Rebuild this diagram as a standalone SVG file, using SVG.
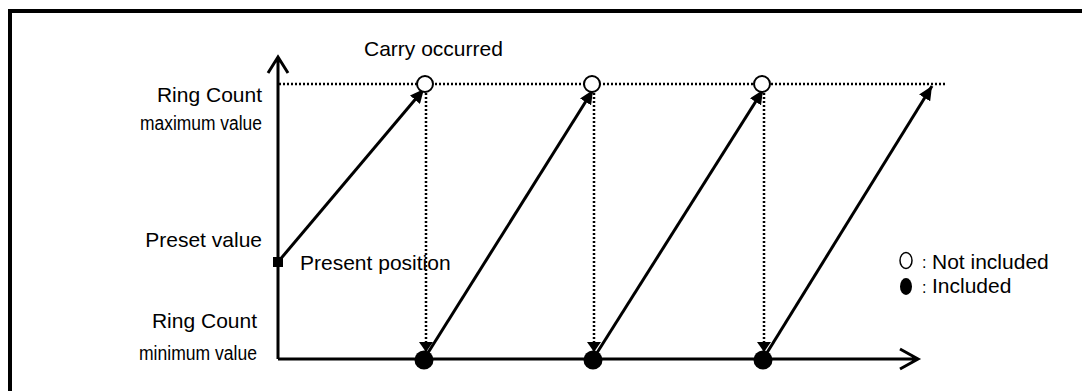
<svg xmlns="http://www.w3.org/2000/svg" width="1082" height="391" viewBox="0 0 1082 391">
<style>
text{font-family:"Liberation Sans",Arial,sans-serif;font-size:21px;fill:#000}
.r{text-anchor:end}
.nar{font-size:20px}
.ax{fill:none;stroke:#000;stroke-width:3}
.sol{fill:none;stroke:#000;stroke-width:3}
.dot{fill:none;stroke:#000;stroke-width:2.5;stroke-dasharray:2 2}
.open{fill:#fff;stroke:#000;stroke-width:2}
.fill{fill:#000}
</style>
<defs>
<marker id="ah" markerUnits="userSpaceOnUse" markerWidth="15" markerHeight="13" refX="14" refY="6.5" orient="auto" viewBox="0 0 15 13">
<path d="M0,0 L14,6.5 L0,13 z" fill="#000"/>
</marker>
<marker id="dh" markerUnits="userSpaceOnUse" markerWidth="12" markerHeight="14" refX="10" refY="7" orient="auto" viewBox="0 0 12 14">
<path d="M0,0 L10,7 L0,14 z" fill="#000"/>
</marker>
</defs>
<rect width="1082" height="391" fill="#fff"/>
<path d="M10,391 V11 H1082" fill="none" stroke="#000" stroke-width="4"/>
<g id="axes">
<path class="ax" d="M278,359 V58 M268,73 L278,57 L288,73"/>
<path class="ax" d="M278,359 H917 M900,349 L918,359 L900,369"/>
</g>
<g id="connectors">
<path class="dot" d="M279,84 H946"/>
<path class="dot" d="M426,93 V352" marker-end="url(#dh)"/>
<path class="dot" d="M594,93 V352" marker-end="url(#dh)"/>
<path class="dot" d="M764,93 V352" marker-end="url(#dh)"/>
<path class="sol" d="M278,262 L424,89" marker-end="url(#ah)"/>
<path class="sol" d="M426,356 L593,90" marker-end="url(#ah)"/>
<path class="sol" d="M595,356 L763,90" marker-end="url(#ah)"/>
<path class="sol" d="M765,356 L932,86" marker-end="url(#ah)"/>
</g>
<g id="carry-points">
<circle class="open" cx="425" cy="84" r="8"/>
<circle class="open" cx="592" cy="84" r="8"/>
<circle class="open" cx="762" cy="84" r="8"/>
</g>
<g id="included-points">
<circle class="fill" cx="424" cy="360" r="9.5"/>
<circle class="fill" cx="593" cy="360" r="9.5"/>
<circle class="fill" cx="763" cy="360" r="9.5"/>
</g>
<g id="preset-point">
<rect x="273" y="257" width="10" height="10" fill="#000"/>
</g>
<g id="labels">
<text x="364" y="56">Carry occurred</text>
<text class="r" x="262" y="102">Ring Count</text>
<text class="r nar" x="262" y="130" textLength="122" lengthAdjust="spacingAndGlyphs">maximum value</text>
<text class="r" x="262" y="247">Preset value</text>
<text x="300" y="270">Present position</text>
<text class="r" x="257" y="328">Ring Count</text>
<text class="r nar" x="257" y="360" textLength="118" lengthAdjust="spacingAndGlyphs">minimum value</text>
</g>
<g id="legend">
<ellipse cx="906" cy="260.5" rx="6" ry="8" fill="#fff" stroke="#000" stroke-width="1.5"/>
<text x="922" y="268" style="font-size:16px">:</text>
<text x="932" y="269">Not included</text>
<ellipse cx="906" cy="286.5" rx="6" ry="8.5" fill="#000"/>
<text x="922" y="293" style="font-size:16px">:</text>
<text x="932" y="293">Included</text>
</g>
</svg>
